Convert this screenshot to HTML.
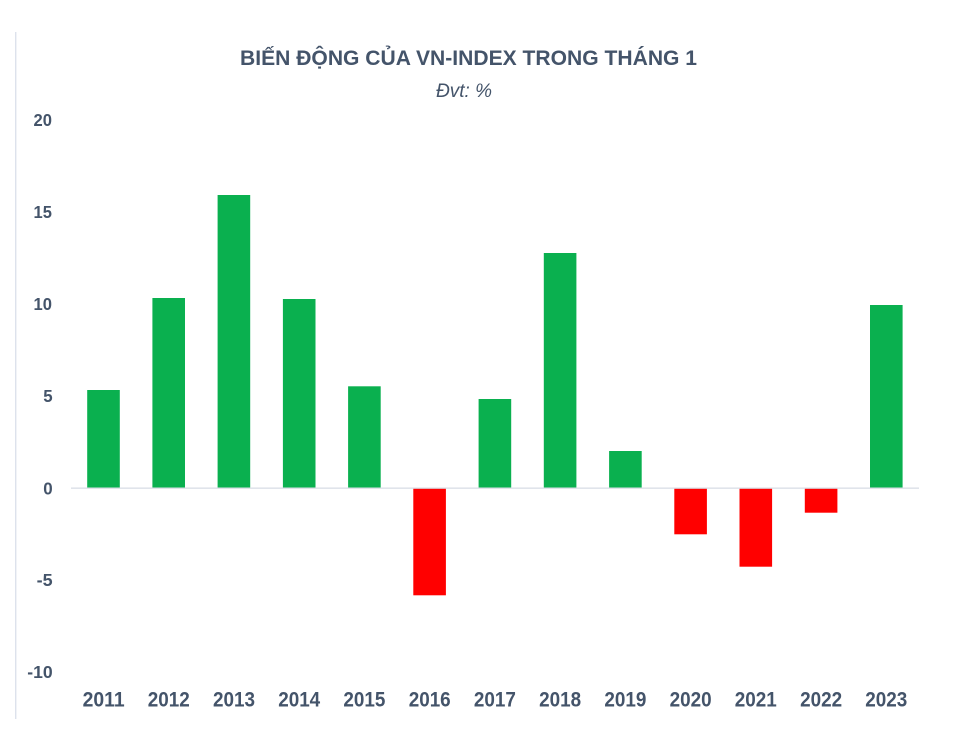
<!DOCTYPE html>
<html>
<head>
<meta charset="utf-8">
<style>
  html, body { margin:0; padding:0; background:#ffffff; }
  body { width:969px; height:739px; overflow:hidden; }
  svg { display:block; }
  text { font-family: "Liberation Sans", "DejaVu Sans", sans-serif; fill:#44546A; }
</style>
</head>
<body>
<svg width="969" height="739" viewBox="0 0 969 739" xmlns="http://www.w3.org/2000/svg">
  <rect x="0" y="0" width="969" height="739" fill="#ffffff"/>
  <!-- left border line -->
  <rect x="15" y="32" width="1.4" height="687" fill="#DDE2EC"/>

  <!-- title -->
  <text x="240" y="65" font-size="21.5" font-weight="bold" textLength="457" lengthAdjust="spacingAndGlyphs">BIẾN ĐỘNG CỦA VN-INDEX TRONG THÁNG 1</text>
  <text x="464" y="97" font-size="19" font-style="italic" text-anchor="middle">Đvt: %</text>

  <!-- y axis labels -->
  <g font-size="17.5" font-weight="bold">
    <text x="33.5" y="126.2" textLength="18.4" lengthAdjust="spacingAndGlyphs">20</text>
    <text x="33.5" y="218.2" textLength="18.4" lengthAdjust="spacingAndGlyphs">15</text>
    <text x="33.5" y="309.8" textLength="18.4" lengthAdjust="spacingAndGlyphs">10</text>
    <text x="43.3" y="402" textLength="9.4" lengthAdjust="spacingAndGlyphs">5</text>
    <text x="43.3" y="494.3" textLength="9.4" lengthAdjust="spacingAndGlyphs">0</text>
    <text x="36.7" y="586" textLength="16" lengthAdjust="spacingAndGlyphs">-5</text>
    <text x="27.3" y="678" textLength="25.4" lengthAdjust="spacingAndGlyphs">-10</text>
  </g>

  <!-- bars -->
  <g>
    <rect x="87.2" y="390" width="32.6" height="98" fill="#0AB04F"/>
    <rect x="152.4" y="298" width="32.6" height="190" fill="#0AB04F"/>
    <rect x="217.6" y="195" width="32.6" height="293" fill="#0AB04F"/>
    <rect x="282.9" y="299" width="32.6" height="189" fill="#0AB04F"/>
    <rect x="348.1" y="386.3" width="32.6" height="101.7" fill="#0AB04F"/>
    <rect x="413.3" y="488" width="32.6" height="107.3" fill="#FF0000"/>
    <rect x="478.6" y="399" width="32.6" height="89" fill="#0AB04F"/>
    <rect x="543.8" y="253" width="32.6" height="235" fill="#0AB04F"/>
    <rect x="609.1" y="451" width="32.6" height="37" fill="#0AB04F"/>
    <rect x="674.3" y="488" width="32.6" height="46.3" fill="#FF0000"/>
    <rect x="739.5" y="488" width="32.6" height="78.7" fill="#FF0000"/>
    <rect x="804.8" y="488" width="32.6" height="24.7" fill="#FF0000"/>
    <rect x="870.0" y="305" width="32.6" height="183" fill="#0AB04F"/>
  </g>

  <!-- zero axis line -->
  <rect x="71" y="487.5" width="848" height="1.3" fill="#D9DEE6"/>

  <!-- x labels -->
  <g font-size="21" font-weight="bold">
    <text x="82.6" y="706.7" textLength="42" lengthAdjust="spacingAndGlyphs">2011</text>
    <text x="147.8" y="706.7" textLength="42" lengthAdjust="spacingAndGlyphs">2012</text>
    <text x="213.0" y="706.7" textLength="42" lengthAdjust="spacingAndGlyphs">2013</text>
    <text x="278.2" y="706.7" textLength="42" lengthAdjust="spacingAndGlyphs">2014</text>
    <text x="343.4" y="706.7" textLength="42" lengthAdjust="spacingAndGlyphs">2015</text>
    <text x="408.7" y="706.7" textLength="42" lengthAdjust="spacingAndGlyphs">2016</text>
    <text x="473.9" y="706.7" textLength="42" lengthAdjust="spacingAndGlyphs">2017</text>
    <text x="539.1" y="706.7" textLength="42" lengthAdjust="spacingAndGlyphs">2018</text>
    <text x="604.4" y="706.7" textLength="42" lengthAdjust="spacingAndGlyphs">2019</text>
    <text x="669.6" y="706.7" textLength="42" lengthAdjust="spacingAndGlyphs">2020</text>
    <text x="734.8" y="706.7" textLength="42" lengthAdjust="spacingAndGlyphs">2021</text>
    <text x="800.1" y="706.7" textLength="42" lengthAdjust="spacingAndGlyphs">2022</text>
    <text x="865.3" y="706.7" textLength="42" lengthAdjust="spacingAndGlyphs">2023</text>
  </g>
</svg>
</body>
</html>
